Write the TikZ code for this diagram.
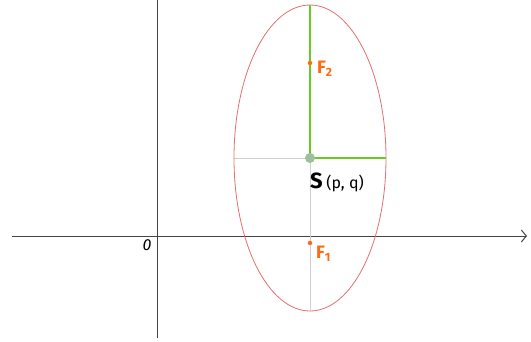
\documentclass[tikz,border=0pt]{standalone}
\usepackage{fontspec}
\setmainfont{Fira Sans}
\usepackage{tikz}
\usetikzlibrary{positioning,arrows.meta,calc}
\definecolor{ellred}{HTML}{E07070}
\definecolor{axisgray}{HTML}{444444}
\definecolor{guide}{HTML}{D0D0D0}
\definecolor{semigreen}{HTML}{66CC22}
\definecolor{focus}{HTML}{FF6A10}
\definecolor{centre}{HTML}{9CBF9C}
\newcommand{\sublbl}[1]{\raisebox{-3pt}{\fontsize{12}{14}\selectfont\bfseries #1}}

\begin{document}
\begin{tikzpicture}[
  x=1pt,y=-1pt,
  axis/.style={axisgray,line width=1pt},
  semi/.style={semigreen,line width=2.2pt},
  dot/.style={circle,fill=focus,inner sep=0pt,minimum size=4.5pt},
  flabel/.style={focus,font=\bfseries\fontsize{18}{20}\selectfont,inner sep=1pt}
]
\useasboundingbox (0,0) rectangle (531,341);
% axes
\coordinate (xl) at (12,236);
\coordinate (xr) at (527,236);
\coordinate (yb) at (157,338);
\coordinate (yt) at (157,0);
\draw[axis,-{Straight Barb[length=5pt,width=12pt]}] (xl)--(xr);
\draw[axis] (yb)--(yt);
\node[font=\itshape\fontsize{16}{18}\selectfont] (o) at (147,245) {0};
% ellipse and guides
\coordinate (S) at (310,158);
\coordinate (top) at (310,5);
\coordinate (bot) at (310,311);
\coordinate (left) at (234,158);
\coordinate (right) at (386,158);
\draw[guide,line width=1pt] (left)--(right);
\draw[guide,line width=1pt] (top)--(bot);
\draw[ellred,line width=0.8pt] (S) ellipse [x radius=76,y radius=153];
\draw[semi] (top)--(S);
\draw[semi] (S)--(right);
\node[circle,fill=centre,inner sep=0pt,minimum size=10pt] (c) at (S) {};
% foci
\node[dot] (F2) at (310,63) {};
\node[dot] (F1) at (310,243) {};
\node[flabel,anchor=west] (l2) at (316,69) {F\sublbl{2}};
\node[flabel,anchor=west] (l1) at (315,254) {F\sublbl{1}};
\node[anchor=west,inner sep=1pt] (ls) at (309,182) {\fontsize{22}{24}\selectfont\textbf{S}\,\fontsize{16}{18}\selectfont(p, q)};
\end{tikzpicture}
\end{document}
